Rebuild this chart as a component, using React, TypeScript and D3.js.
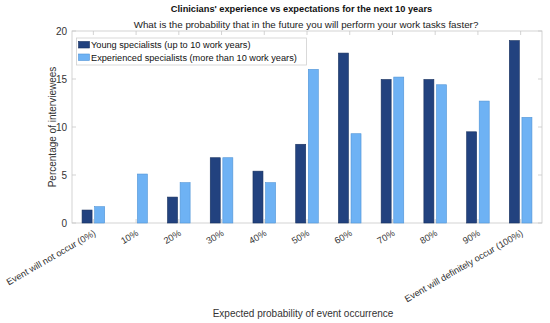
import React from "react";
import * as d3 from "d3";

const categories = [
  "Event will not occur (0%)",
  "10%",
  "20%",
  "30%",
  "40%",
  "50%",
  "60%",
  "70%",
  "80%",
  "90%",
  "Event will definitely occur (100%)",
];
const young = [1.35, 0, 2.7, 6.8, 5.4, 8.2, 17.7, 14.95, 14.95, 9.5, 19.0];
const experienced = [1.7, 5.1, 4.2, 6.8, 4.2, 16.0, 9.3, 15.2, 14.4, 12.7, 11.0];
const yTicks = [0, 5, 10, 15, 20];
const seriesNames = [
  "Young specialists (up to 10 work years)",
  "Experienced specialists (more than 10 work years)",
];
const fills = ["#22427f", "#6eb2f4"];
const strokes = ["#17305e", "#4f93d6"];

const font = "'Liberation Sans', Arial, sans-serif";

const App = () => {
  const width = 550;
  const height = 323;
  const m = { top: 31, right: 8, bottom: 100, left: 72 };
  const x0 = m.left, x1 = width - m.right;
  const yBottom = height - m.bottom;

  const x = d3.scaleBand<string>().domain(categories).range([x0, x1]).paddingInner(0).paddingOuter(0);
  const y = d3.scaleLinear().domain([0, 20]).range([yBottom, m.top]);
  const barW = 10;
  const half = 1.3;

  const series = [young, experienced];

  return (
    <svg width={width} height={height} style={{ position: "absolute", left: 0, top: 0, fontFamily: font }}>
      <rect width={width} height={height} fill="white" />
      <text x={301.5} y={12} textAnchor="middle" fontSize="9.25" fontWeight="bold" fill="#111">
        Clinicians' experience vs expectations for the next 10 years
      </text>
      <text x={306} y={28} textAnchor="middle" fontSize="9.8" fill="#222">
        What is the probability that in the future you will perform your work tasks faster?
      </text>

      {/* axes box */}
      <rect x={x0} y={m.top} width={x1 - x0} height={yBottom - m.top} fill="none" stroke="#c8c8c8" strokeWidth={0.8} />

      {/* y ticks */}
      {yTicks.map((t) => (
        <g key={t}>
          <line x1={x0} x2={x0 + 4} y1={y(t)} y2={y(t)} stroke="#c8c8c8" strokeWidth={0.8} />
          <line x1={x1} x2={x1 - 4} y1={y(t)} y2={y(t)} stroke="#c8c8c8" strokeWidth={0.8} />
          <text x={x0 - 5} y={y(t)} dy="0.35em" textAnchor="end" fontSize="10" fill="#333">
            {t}
          </text>
        </g>
      ))}

      {/* x ticks */}
      {categories.map((c) => {
        const cx = (x(c) as number) + x.bandwidth() / 2;
        return (
          <g key={c}>
            <line x1={cx} x2={cx} y1={yBottom} y2={yBottom - 4} stroke="#c8c8c8" strokeWidth={0.8} />
            <line x1={cx} x2={cx} y1={m.top} y2={m.top + 4} stroke="#c8c8c8" strokeWidth={0.8} />
            <text
              transform={`translate(${cx + 3},${yBottom + 12}) rotate(-30)`}
              textAnchor="end"
              fontSize="9.2"
              fill="#333"
            >
              {c}
            </text>
          </g>
        );
      })}

      {/* bars */}
      {series.map((vals, si) =>
        vals.map((v, i) => {
          const cx = (x(categories[i]) as number) + x.bandwidth() / 2;
          const bx = si === 0 ? cx - half - barW : cx + half;
          if (v <= 0) return null;
          return (
            <rect
              key={`${si}-${i}`}
              x={bx}
              y={y(v)}
              width={barW}
              height={yBottom - y(v)}
              fill={fills[si]}
              stroke={strokes[si]}
              strokeWidth={0.6}
            />
          );
        })
      )}

      {/* legend */}
      <rect x={76.5} y={38} width={230} height={27} fill="white" stroke="#d0d0d0" strokeWidth={0.8} />
      {seriesNames.map((n, i) => (
        <g key={n}>
          <rect x={78.5} y={41.5 + i * 12.5} width={11} height={6.5} fill={fills[i]} stroke={strokes[i]} strokeWidth={0.6} />
          <text x={91} y={45 + i * 12.5} dy="0.35em" fontSize="9.2" fill="#111">
            {n}
          </text>
        </g>
      ))}

      <text
        transform={`translate(${56},${(yBottom + m.top) / 2}) rotate(-90)`}
        textAnchor="middle"
        fontSize="10"
        fill="#333"
      >
        Percentage of interviewees
      </text>
      <text x={303} y={317} textAnchor="middle" fontSize="10" fill="#333">
        Expected probability of event occurrence
      </text>
    </svg>
  );
};

export default App;
